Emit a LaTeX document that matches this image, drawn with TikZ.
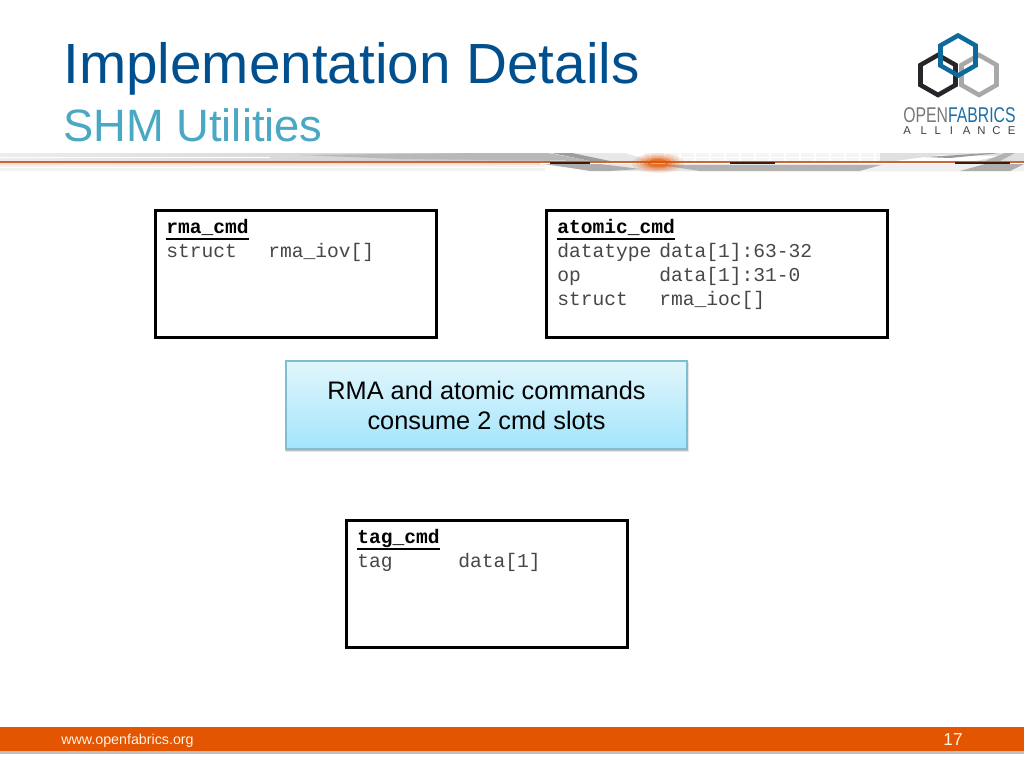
\documentclass[tikz,border=0pt]{standalone}
\usepackage{fontspec}
\usepackage{graphicx}
\setmainfont{Liberation Sans}
\setmonofont{Liberation Mono}
\definecolor{titleblue}{HTML}{00508F}
\definecolor{subblue}{HTML}{4BA8C4}
\definecolor{barorange}{HTML}{E35500}
\definecolor{lineorange}{HTML}{C8683A}
\definecolor{boxedge}{HTML}{7FBDD0}
\definecolor{notetop}{HTML}{E2F6FC}
\definecolor{notebot}{HTML}{A2E5FC}
\definecolor{logoblue}{HTML}{0F6A9C}
\definecolor{logodark}{HTML}{26262A}
\definecolor{logogrey}{HTML}{A6A8AA}
\definecolor{fabblue}{HTML}{1F6FA5}
\definecolor{opengrey}{HTML}{77787B}
\tikzset{
  pxfont/.style={font=\fontsize{#1}{#1}\selectfont},
  cmdbox/.style={draw=black,line width=1.8pt,fill=white,inner sep=0pt,outer sep=0pt,anchor=north west},
  codetxt/.style={anchor=base west,inner sep=0pt,text=black!72,font=\fontsize{14.7}{14.7}\selectfont\ttfamily},
  codehead/.style={anchor=base west,inner sep=0pt,text=black,font=\fontsize{14.7}{14.7}\selectfont\ttfamily\bfseries},
  hexa/.style={line width=3.4pt,line join=miter}
}
\begin{document}
\begin{tikzpicture}[x=0.75pt,y=-0.75pt]
\useasboundingbox (0,0) rectangle (1024,768);
\fill[white] (0,0) rectangle (1024,768);
% title
\node[name=title,anchor=base west,inner sep=0pt,text=titleblue,pxfont=42.5] at (63,83) {Implementation Details};
\node[name=sub,anchor=base west,inner sep=0pt,text=subblue,pxfont=34] at (63,141) {SHM Utilities};
% banner
\shade[left color=black!7,right color=black!22] (0,153) rectangle (550,161);
\fill[white] (0,157) rectangle (270,158);
\fill[black!5] (0,164) rectangle (545,171);
\fill[white] (0,167) rectangle (545,168);
\fill[black!28] (300,155) -- (480,153) -- (550,153) -- (590,161) -- (400,159) -- cycle;
\fill[black!9] (548,153) -- (625,153) -- (652,161) -- (595,161) -- cycle;
\fill[black!38] (552,153) -- (572,153) -- (610,161) -- (590,161) -- cycle;
\fill[black!4] (645,153) rectangle (880,161);
\foreach \i in {650,665,...,875} \draw[white,line width=.8pt] (\i,153) -- (\i,161);
\fill[white] (645,157) rectangle (880,158);
\fill[black!10] (540,164) -- (1024,164) -- (1024,171) -- (600,171) -- cycle;
\fill[black!32] (545,164) -- (600,164) -- (640,169) -- (610,171) -- (590,171) -- cycle;
\fill[black!30] (660,165) -- (885,165) -- (860,171) -- (700,171) -- cycle;
\fill[black!6] (885,164) -- (1024,164) -- (1024,171) -- (860,171) -- cycle;
\fill[black!12] (880,153) -- (1024,153) -- (1024,161) -- (880,161) -- cycle;
\fill[white] (895,161) -- (940,155) -- (1000,156) -- (975,161) -- cycle;
\fill[black!40] (925,157) -- (990,153) -- (1000,153) -- (950,158) -- cycle;
\fill[black!32] (960,171) -- (985,164) -- (1024,164) -- (1010,171) -- cycle;
\fill[black!30] (985,161) -- (1005,153) -- (1015,153) -- (1000,161) -- cycle;
\fill[lineorange!22] (0,160.5) rectangle (540,165);
\draw[lineorange,line width=1.3pt] (0,162.3) -- (1024,162.3);
\fill[black!70!barorange] (550,161.5) rectangle (590,163.5);
\fill[black!70!barorange] (730,161.5) rectangle (775,163.5);
\fill[black!70!barorange] (955,161.5) rectangle (1010,163.5);
\foreach \r/\o in {1.0/.12,.85/.15,.7/.2,.55/.35,.4/.5}
  \fill[barorange,opacity=\o] (658,163) ellipse ({26*\r} and {10*\r});
\fill[white!30!orange] (651,162.5) rectangle (665,163.5);
% logo
\draw[hexa,draw=logogrey] (979,55) -- (996.5,65) -- (996.5,85) -- (979,95) -- (961.5,85) -- (961.5,65) -- cycle;
\draw[hexa,draw=logodark] (938,55) -- (955.5,65) -- (955.5,85) -- (938,95) -- (920.5,85) -- (920.5,65) -- cycle;
\draw[hexa,draw=logoblue] (958,35.5) -- (975.5,45.5) -- (975.5,65.5) -- (958,75.5) -- (940.5,65.5) -- (940.5,45.5) -- cycle;
\node[name=logoa,anchor=base west,inner sep=0pt,pxfont=16] at (903,122) {\scalebox{.74}[1]{\textcolor{opengrey}{OPEN}\textcolor{fabblue}{FABRICS}}};
\node[name=logob,anchor=base west,inner sep=0pt,text=black!75,pxfont=8.5] at (903,134) {A\hspace{7.3pt}L\hspace{5.9pt}L\hspace{6.7pt}I\hspace{7.4pt}A\hspace{5.1pt}N\hspace{5.1pt}C\hspace{5.6pt}E};
% command boxes
\node[name=rmabox,cmdbox,minimum width=210.75pt,minimum height=95.25pt] at (155.5,210.5) {};
\node[name=atomicbox,cmdbox,minimum width=255.75pt,minimum height=95.25pt] at (546.5,210.5) {};
\node[name=tagbox,cmdbox,minimum width=210.75pt,minimum height=95.25pt] at (346.5,520.5) {};
% rma
\node[name=rh,codehead] at (166,233) {rma\_cmd};
\draw[line width=1.5pt] (rh.west |- 0,238.5) -- (rh.east |- 0,238.5);
\node[name=r1,codetxt] at (166,257) {struct};
\node[name=r2,codetxt] at (268,257) {rma\_iov[]};
% atomic
\node[name=ah,codehead] at (557,233) {atomic\_cmd};
\draw[line width=1.5pt] (ah.west |- 0,238.5) -- (ah.east |- 0,238.5);
\node[name=a1,codetxt] at (557,257) {datatype};
\node[name=a2,codetxt] at (659,257) {data[1]:63-32};
\node[name=a3,codetxt] at (557,281) {op};
\node[name=a4,codetxt] at (659,281) {data[1]:31-0};
\node[name=a5,codetxt] at (557,305) {struct};
\node[name=a6,codetxt] at (659,305) {rma\_ioc[]};
% tag
\node[name=th,codehead] at (357,543) {tag\_cmd};
\draw[line width=1.5pt] (th.west |- 0,548.5) -- (th.east |- 0,548.5);
\node[name=t1,codetxt] at (357,567) {tag};
\node[name=t2,codetxt] at (458,567) {data[1]};
% note
\fill[black!10] (285,362) rectangle (689,452);
\fill[black!25] (286,362) rectangle (688,450.5);
\shade[top color=notetop,bottom color=notebot,draw=boxedge,line width=.8pt] (286,361) rectangle (687,449);
\node[name=note,align=center,inner sep=0pt,text=black,pxfont=19] at (486.5,405.5) {RMA and atomic commands\\[3.2pt]consume 2 cmd slots};
% footer
\fill[black!25] (0,751) rectangle (1024,754);
\fill[barorange] (0,727) rectangle (1024,751);
\node[name=url,anchor=base west,inner sep=0pt,text=white!90!orange,pxfont=10.7] at (61,744) {www.openfabrics.org};
\node[name=page,anchor=base,inner sep=0pt,text=white!90!orange,pxfont=13] at (953,745) {17};
\end{tikzpicture}
\end{document}
